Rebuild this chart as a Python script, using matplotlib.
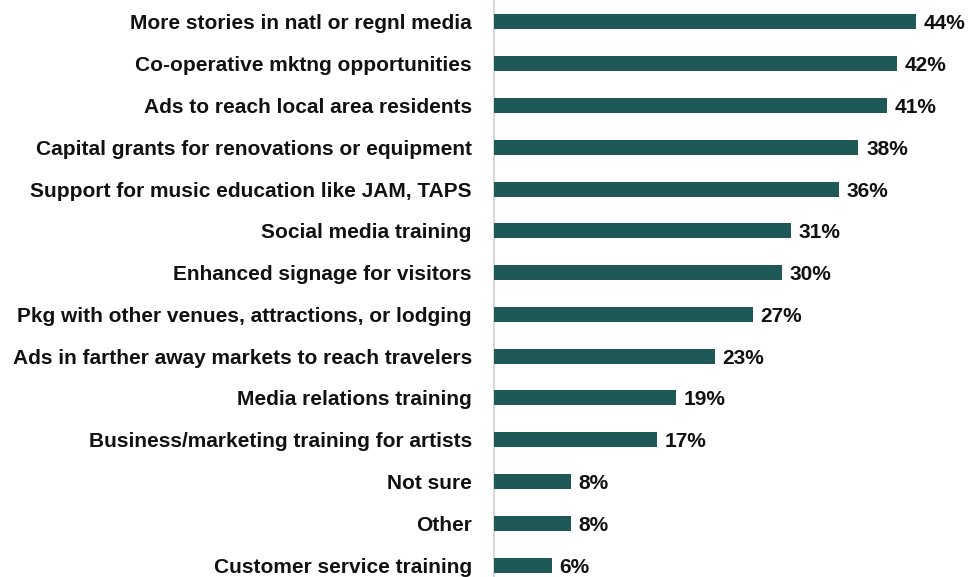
import matplotlib
matplotlib.use("Agg")
import matplotlib.pyplot as plt

categories = [
    "More stories in natl or regnl media",
    "Co-operative mktng opportunities",
    "Ads to reach local area residents",
    "Capital grants for renovations or equipment",
    "Support for music education like JAM, TAPS",
    "Social media training",
    "Enhanced signage for visitors",
    "Pkg with other venues, attractions, or lodging",
    "Ads in farther away markets to reach travelers",
    "Media relations training",
    "Business/marketing training for artists",
    "Not sure",
    "Other",
    "Customer service training",
]
values = [44, 42, 41, 38, 36, 31, 30, 27, 23, 19, 17, 8, 8, 6]

BAR_COLOR = "#1f5957"
FONT = ["Liberation Sans", "DejaVu Sans"]

fig = plt.figure(figsize=(9.7, 5.77), dpi=100)
# axes runs a little past the bottom edge, as in the source image
ax = fig.add_axes([494 / 970, -9 / 577, 476 / 970, 585 / 577])

n = len(categories)
ypos = list(range(n))
ax.barh(ypos, values, height=0.36, color=BAR_COLOR, zorder=3)
ax.set_ylim(n - 0.5, -0.5)
ax.set_xlim(0, 44 * 476 / 422)

for y, v in zip(ypos, values):
    ax.text(v + 0.8, y, f"{v}%", va="center_baseline", ha="left",
            fontsize=15, fontweight="bold", family=FONT, color="#111111")

ax.set_yticks(ypos)
ax.set_yticklabels(categories, fontsize=15, fontweight="bold", family=FONT,
                   color="#111111")
ax.tick_params(axis="y", length=0, pad=16)
ax.set_xticks([])
for s in ["top", "right", "bottom"]:
    ax.spines[s].set_visible(False)
ax.spines["left"].set_color("#d9d9d9")
ax.spines["left"].set_linewidth(1.5)

fig.savefig("out.png", dpi=100)
